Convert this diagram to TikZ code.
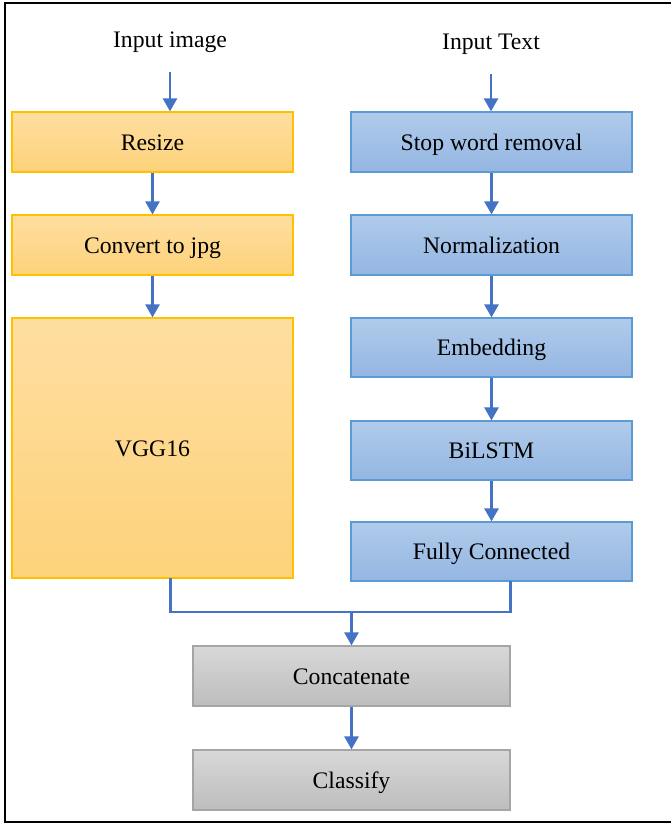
\documentclass[tikz,border=0pt]{standalone}
\usepackage{fontspec}
\setmainfont{Liberation Serif}
\usetikzlibrary{arrows.meta}
\definecolor{arrblue}{HTML}{4472C4}
\definecolor{orgtop}{HTML}{FEDEA0}
\definecolor{orgbot}{HTML}{FDD27A}
\definecolor{orgline}{HTML}{FFC000}
\definecolor{blutop}{HTML}{B0CBEB}
\definecolor{blubot}{HTML}{94B6E2}
\definecolor{bluline}{HTML}{5B9BD5}
\definecolor{grytop}{HTML}{D8D8D8}
\definecolor{grybot}{HTML}{BDBDBD}
\definecolor{gryline}{HTML}{A5A5A5}
\tikzset{
  boxbase/.style={rectangle, inner sep=0pt, line width=1.2pt, minimum width=281pt, minimum height=60pt, text height=20pt, text depth=4pt, font=\fontsize{23.7}{28}\selectfont},
  orgbox/.style={boxbase, draw=orgline, top color=orgtop, bottom color=orgbot},
  blubox/.style={boxbase, draw=bluline, top color=blutop, bottom color=blubot},
  grybox/.style={boxbase, draw=gryline, top color=grytop, bottom color=grybot, minimum width=317pt},
  lbl/.style={inner sep=0pt, text height=20pt, text depth=4pt, font=\fontsize{23.7}{28}\selectfont},
  conn/.style={draw=arrblue, line width=2.6pt},
  arr/.style={conn, -{Triangle[width=14pt,length=13pt]}}
}
\begin{document}
\begin{tikzpicture}[x=1pt,y=-1pt]
\useasboundingbox (0,0) rectangle (671,825);
\fill[white] (0,0) rectangle (671,825);
\draw[line width=2.2pt, black] (680,3) -- (5,3) -- (5,822) -- (680,822);

% labels
\node[lbl] (inimg) at (170,39) {Input image};
\node[lbl] (intxt) at (491,41) {Input Text};

% left column
\node[orgbox] (resize) at (152.5,142) {Resize};
\node[orgbox] (conv) at (152.5,245) {Convert to jpg};
\node[orgbox, minimum height=260pt] (vgg) at (152.5,448) {VGG16};

% right column
\node[blubox] (stop) at (491.5,142) {Stop word removal};
\node[blubox] (norm) at (491.5,245) {Normalization};
\node[blubox, minimum height=59pt] (emb) at (491.5,347.5) {Embedding};
\node[blubox, minimum height=59pt] (bil) at (491.5,450.5) {BiLSTM};
\node[blubox, minimum height=59pt] (fc) at (491.5,551.5) {Fully Connected};

% bottom
\node[grybox] (concat) at (351.5,676) {Concatenate};
\node[grybox] (cls) at (351.5,780) {Classify};

% arrows
\coordinate (ai) at (170,72);
\coordinate (at) at (491,74);
\draw[arr] (ai) -- (ai |- resize.north);
\draw[arr] (at) -- (at |- stop.north);
\draw[arr] (resize) -- (conv);
\draw[arr] (conv) -- (vgg);
\draw[arr] (stop) -- (norm);
\draw[arr] (norm) -- (emb);
\draw[arr] (emb) -- (bil);
\draw[arr] (bil) -- (fc);

\coordinate (m) at (351.5,612);
\coordinate (vb) at (170.5,578);
\coordinate (fb) at (510.5,581);
\draw[conn] (vb) |- (m);
\draw[conn] (fb) |- (m);
\draw[arr] (m) -- (concat.north);
\draw[arr] (concat) -- (cls);
\end{tikzpicture}
\end{document}
